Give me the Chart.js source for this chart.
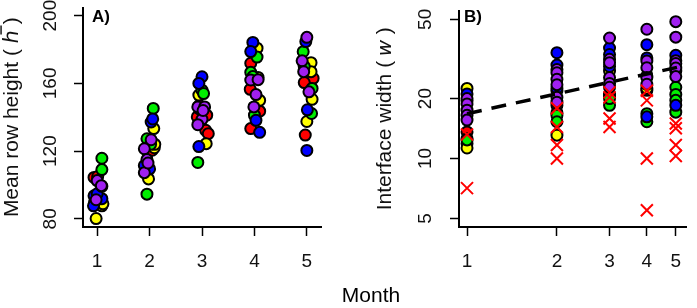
<!DOCTYPE html>
<html><head><meta charset="utf-8">
<script src="https://cdn.jsdelivr.net/npm/chart.js@4.4.0/dist/chart.umd.min.js"></script>
<style>
html,body{margin:0;padding:0;background:#fff;}
#wrap{position:relative;width:697px;height:308px;overflow:hidden;background:#fff;}
#cA{position:absolute;left:0;top:0;width:350px;height:308px;}
#cB{position:absolute;left:350px;top:0;width:347px;height:308px;}
.lab{position:absolute;font-family:"Liberation Sans",Arial,sans-serif;line-height:1;color:#000;white-space:nowrap;}
</style></head><body>
<div id="wrap">
<canvas id="cA" width="350" height="308"></canvas>
<canvas id="cB" width="347" height="308"></canvas>
<div class="lab" style="left:92px;top:8px;font-size:17px;font-weight:bold">A)</div>
<div class="lab" style="left:464px;top:8px;font-size:17px;font-weight:bold">B)</div>
<div class="lab" style="left:321px;top:284px;width:100px;text-align:center;font-size:21px;">Month</div>
</div>
<script>
// ---- data ----
const monthTicks = [1, 2, 3, 4, 5];
const heightTicks = [80, 120, 160, 200];
const widthTicks = [5, 10, 20, 50];

// Panel A: [jittered month, mean row height]
const heightRed = [[0.94,104.5],[1.01,105.0],[1.97,119.4],[2.05,120.5],[2.91,140.2],[3.09,141.2],[3.07,132.3],[3.12,130.3],[2.95,147.0],[3.93,171.9],[3.92,156.5],[4.10,143.6],[3.93,133.3],[5.12,163.0],[4.95,160.5],[4.97,129.5]];
const heightYellow = [[1.09,87.7],[0.98,80.2],[1.11,88.9],[2.08,133.3],[2.09,122.0],[1.98,103.6],[2.10,124.0],[2.94,153.1],[3.08,124.4],[2.95,145.0],[4.05,180.8],[4.10,150.0],[4.07,163.5],[5.08,172.2],[5.08,166.9],[5.10,150.6],[5.00,137.5]];
const heightGreen = [[1.09,115.8],[1.09,109.1],[2.07,145.2],[1.95,127.3],[1.95,94.6],[2.02,124.0],[3.00,156.0],[2.92,113.3],[3.03,154.0],[4.05,175.5],[3.93,166.5],[3.97,164.0],[4.00,141.2],[4.93,178.7],[5.10,157.0],[5.09,142.2],[4.95,170.0]];
const heightBlue = [[0.94,93.6],[1.09,91.9],[0.95,89.7],[0.93,87.7],[1.00,94.8],[2.03,137.2],[2.06,139.0],[1.90,111.5],[2.00,109.5],[3.00,163.9],[2.94,160.0],[2.94,122.7],[3.97,184.2],[3.93,178.8],[4.03,138.2],[4.10,131.1],[4.98,184.7],[5.01,144.4],[5.00,120.4]];
const heightPurple = [[1.00,102.6],[1.09,99.2],[0.98,91.3],[1.08,99.6],[2.03,126.7],[1.90,121.4],[1.95,115.0],[1.90,107.3],[1.97,113.0],[2.92,146.1],[3.05,146.1],[3.00,138.8],[2.92,135.6],[3.02,144.0],[3.93,162.0],[4.07,162.2],[4.03,153.4],[3.99,146.1],[5.00,187.2],[4.91,173.3],[4.94,166.9],[5.04,155.0]];

// Panel B: values per month (months 1..5)
const widthRed = [[13.6,12.6],[18.5,17.0],[21.0,20.8],[22.0],[]];
const widthYellow = [[22.5,11.9,11.3],[13.1],[27.5],[22.5],[]];
const widthGreen = [[12.4],[21.9,16.5,15.3],[18.5,20.0],[16.8,15.3],[22.8,21.0,19.6,17.1]];
const widthBlue = [[21.1,19.5],[34.0,29.5,22.5],[35.9,33.3,29.0],[37.3,32.0,26.0,16.2],[33.0,18.5,27.5]];
const widthPurple = [[20.0,18.8,17.5,16.5,15.6],[28.0,27.0,25.0,23.5,20.3,19.2],[40.3,31.5,30.3,25.5,23.8,22.8],[44.6,30.9,28.6,25.5,23.6],[48.7,40.7,31.0,30.0,28.5,25.8]];
const widthCross = [[13.2,7.1],[17.9,14.4,11.7,10.0],[21.5,20.3,15.9,14.4],[21.9,19.6,10.0,5.5],[15.0,14.2,11.7,10.3]];
const trendMonths = [1, 5.43];
const trendWidth = [16.8, 29.4];

// ---- helpers ----
const FONT = '"Liberation Sans", Arial, sans-serif';
Chart.defaults.font.family = FONT;
const pairs = a => a.map(p => ({x: p[0], y: p[1]}));
const byMonth = a => a.flatMap((vals, i) => vals.map(v => ({x: monthTicks[i], y: v})));
const dot = (data, color, order) => ({
  data, order, backgroundColor: color, borderColor: '#000', borderWidth: 2,
  pointRadius: 5.5, pointHoverRadius: 5.5, pointStyle: 'circle'
});
const fixTicks = vals => s => { s.ticks = vals.map(v => ({value: v})); };
const gridOpts = {display: true, drawOnChartArea: false, drawTicks: true, tickLength: 9, tickWidth: 1.5, tickColor: '#000'};
const borderOpts = {display: true, color: '#000', width: 2};

function xScale(type, min, max) {
  return {
    type, min, max,
    afterBuildTicks: fixTicks(monthTicks),
    afterFit: s => { s.height = 81; s.paddingLeft = 0; s.paddingRight = 0; },
    grid: gridOpts, border: borderOpts,
    ticks: {font: {size: 19}, color: '#111', padding: 14, maxRotation: 0, minRotation: 0, autoSkip: false, callback: v => String(v)}
  };
}
function yScale(type, min, max, tickVals, width, pad, title, titlePad) {
  return {
    type, min, max,
    afterBuildTicks: fixTicks(tickVals),
    afterFit: s => { s.width = width; s.paddingTop = 0; s.paddingBottom = 0; },
    grid: gridOpts, border: borderOpts,
    ticks: {font: {size: 19}, color: '#111', padding: pad, minRotation: 90, maxRotation: 90, crossAlign: 'center', autoSkip: false, callback: v => String(v)},
    title: {display: true, text: title, font: {size: 21}, color: '#111', padding: {top: titlePad, bottom: 0}}
  };
}
const common = {
  responsive: false, animation: false, events: [],
  plugins: {legend: {display: false}, tooltip: {enabled: false}}
};

new Chart(document.getElementById('cA'), {
  type: 'scatter',
  data: {datasets: [
    dot(pairs(heightRed), '#FF0000', 5),
    dot(pairs(heightYellow), '#FFFF00', 4),
    dot(pairs(heightGreen), '#00EE00', 3),
    dot(pairs(heightBlue), '#0000FF', 2),
    dot(pairs(heightPurple), '#A020F0', 1)
  ]},
  options: Object.assign({}, common, {
    layout: {padding: {top: 7, right: 29, left: 0, bottom: 0}},
    scales: {
      x: xScale('linear', 0.73, 5.27),
      y: yScale('linear', 75.2, 204.8, heightTicks, 83, 7, 'Mean row height ( \u210E\u0305 )', 0)
    }
  })
});

new Chart(document.getElementById('cB'), {
  type: 'scatter',
  data: {datasets: [
    dot(byMonth(widthRed), '#FF0000', 7),
    dot(byMonth(widthYellow), '#FFFF00', 6),
    dot(byMonth(widthGreen), '#00EE00', 5),
    dot(byMonth(widthBlue), '#0000FF', 4),
    dot(byMonth(widthPurple), '#A020F0', 3),
    {type: 'line', data: trendMonths.map((m, i) => ({x: m, y: trendWidth[i]})), order: 2,
     showLine: true, borderColor: '#000', borderWidth: 3.5, borderDash: [15, 10], pointRadius: 0, fill: false, tension: 0},
    {data: byMonth(widthCross), order: 1, pointStyle: 'crossRot', pointRadius: 8.5, pointHoverRadius: 8.5,
     borderColor: '#FF0000', backgroundColor: '#FF0000', borderWidth: 2}
  ]},
  options: Object.assign({}, common, {
    layout: {padding: {top: 7, right: 0, left: 0, bottom: 0}},
    scales: {
      x: xScale('logarithmic', 0.94, 5.43),
      y: yScale('logarithmic', 4.53, 55.4, widthTicks, 109, 13.5, 'Interface width ( \uD835\uDC64 )', 23)
    }
  })
});
</script>
</body></html>
